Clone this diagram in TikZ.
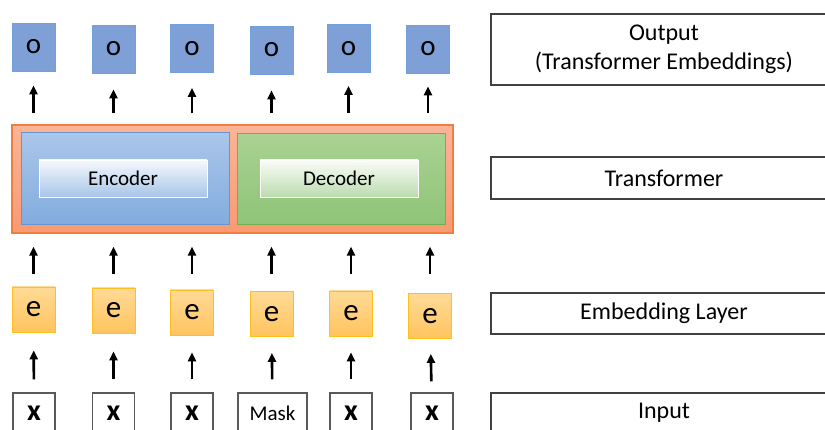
\documentclass[tikz,border=0pt]{standalone}
\usepackage{fontspec}
\setmainfont{Carlito}
\usetikzlibrary{arrows.meta}
\definecolor{outfill}{RGB}{127,160,214}
\definecolor{outline}{RGB}{112,160,222}
\definecolor{embtop}{RGB}{255,218,150}
\definecolor{embbot}{RGB}{255,196,94}
\definecolor{embline}{RGB}{255,192,30}
\definecolor{trtop}{RGB}{251,180,152}
\definecolor{trbot}{RGB}{249,154,114}
\definecolor{trline}{RGB}{240,126,62}
\definecolor{enctop}{RGB}{170,198,234}
\definecolor{encbot}{RGB}{130,172,222}
\definecolor{encline}{RGB}{100,150,210}
\definecolor{dectop}{RGB}{170,210,146}
\definecolor{decbot}{RGB}{142,196,120}
\definecolor{decline}{RGB}{112,176,80}
\begin{document}
\begin{tikzpicture}
[x=1pt,y=-1pt,
  outdecorate/.style={shape=rectangle,inner sep=0pt,draw=outline,fill=outfill,line width=0.8pt,
    minimum width=43pt,minimum height=48pt,font=\fontsize{29}{29}\selectfont},
  embdecorate/.style={shape=rectangle,inner sep=0pt,draw=embline,top color=embtop,bottom color=embbot,
    line width=0.8pt,minimum width=43pt,minimum height=45pt,font=\fontsize{31}{31}\selectfont},
  indecorate/.style={shape=rectangle,inner sep=0pt,draw=black!65,fill=white,line width=1.1pt,
    minimum width=42pt,minimum height=40pt,font=\fontsize{30}{30}\selectfont\bfseries},
  layerdecorate/.style={shape=rectangle,inner sep=0pt,draw=black!75,line width=1.3pt,
    minimum width=346pt,align=center,font=\fontsize{24}{28.5}\selectfont},
  labeldecorate/.style={shape=rectangle,inner sep=0pt,draw=white!60,line width=0.6pt,
    minimum height=37pt,font=\fontsize{21}{21}\selectfont},
  arrowdecorate/.style={->,>={Triangle[width=8pt,length=9pt]},line width=2.6pt}]
\useasboundingbox (0,0) rectangle (825,430);
\clip (0,0) rectangle (825,430);
% transformer block
\node (tr) at (232.5,179) [shape=rectangle,draw=trline,top color=trtop,bottom color=trbot,
  line width=1.2pt,minimum width=441pt,minimum height=108pt] {};
\node (enc) at (125,179) [shape=rectangle,draw=encline,top color=enctop,bottom color=encbot,
  line width=1pt,minimum width=208pt,minimum height=92pt] {};
\node (dec) at (341,179) [shape=rectangle,draw=decline,top color=dectop,bottom color=decbot,
  line width=1pt,minimum width=208pt,minimum height=91pt] {};
\node (encl) at (123,178.5) [labeldecorate,top color=white!92!encbot,bottom color=white!30!encbot,
  minimum width=168pt] {Encoder};
\node (decl) at (339,178.5) [labeldecorate,top color=white!95!decbot,bottom color=white!40!decbot,
  minimum width=158pt] {Decoder};
% output nodes
\node (o1) at (33.5,47) [outdecorate] {o};
\node (o2) at (113.5,49) [outdecorate] {o};
\node (o3) at (192,48.5) [outdecorate] {o};
\node (o4) at (271.5,50) [outdecorate] {o};
\node (o5) at (348.5,48.5) [outdecorate] {o};
\node (o6) at (428,49) [outdecorate] {o};
% embedding nodes
\node (e1) at (33.5,309.5) [embdecorate] {e};
\node (e2) at (113.5,310.5) [embdecorate] {e};
\node (e3) at (192,312.5) [embdecorate] {e};
\node (e4) at (271.5,314) [embdecorate] {e};
\node (e5) at (351,313.5) [embdecorate] {e};
\node (e6) at (430,316) [embdecorate] {e};
% input nodes
\node (x1) at (34,413) [indecorate] {x};
\node (x2) at (113.5,413) [indecorate] {x};
\node (x3) at (192,413) [indecorate] {x};
\node (x4) at (272.5,413) [indecorate,minimum width=69pt,font=\fontsize{21}{21}\selectfont] {Mask};
\node (x5) at (351,413) [indecorate] {x};
\node (x6) at (432,413) [indecorate] {x};
% layer names
\node (lout) at (664,49.5) [layerdecorate,minimum height=71pt] {Output\\(Transformer Embeddings)};
\node (ltr) at (664,178) [layerdecorate,minimum height=42pt] {Transformer};
\node (lemb) at (664,313.5) [layerdecorate,minimum height=41pt] {Embedding Layer};
\node (lin) at (664,413) [layerdecorate,minimum height=40pt] {Input};
% arrows
\path
(x1) edge[arrowdecorate,shorten <=13pt,shorten >=18pt] (e1)
(x2) edge[arrowdecorate,shorten <=13pt,shorten >=18pt] (e2)
(x3) edge[arrowdecorate,shorten <=13pt,shorten >=17pt] (e3)
(x4) edge[arrowdecorate,shorten <=13pt,shorten >=16pt] (e4)
(x5) edge[arrowdecorate,shorten <=13pt,shorten >=16pt] (e5)
(x6) edge[arrowdecorate,shorten <=11pt,shorten >=15pt] (e6)
(e1) edge[arrowdecorate,shorten <=13pt,shorten >=13pt] (e1 |- tr.south)
(e2) edge[arrowdecorate,shorten <=14pt,shorten >=13pt] (e2 |- tr.south)
(e3) edge[arrowdecorate,shorten <=16pt,shorten >=13pt] (e3 |- tr.south)
(e4) edge[arrowdecorate,shorten <=17pt,shorten >=13pt] (e4 |- tr.south)
(e5) edge[arrowdecorate,shorten <=17pt,shorten >=13pt] (e5 |- tr.south)
(e6) edge[arrowdecorate,shorten <=19pt,shorten >=13pt] (e6 |- tr.south)
(tr.north -| o1) edge[arrowdecorate,shorten <=11pt,shorten >=14pt] (o1)
(tr.north -| o2) edge[arrowdecorate,shorten <=11pt,shorten >=16pt] (o2)
(tr.north -| o3) edge[arrowdecorate,shorten <=11pt,shorten >=15pt] (o3)
(tr.north -| o4) edge[arrowdecorate,shorten <=11pt,shorten >=16pt] (o4)
(tr.north -| o5) edge[arrowdecorate,shorten <=11pt,shorten >=13pt] (o5)
(tr.north -| o6) edge[arrowdecorate,shorten <=11pt,shorten >=13pt] (o6);
\end{tikzpicture}
\end{document}
